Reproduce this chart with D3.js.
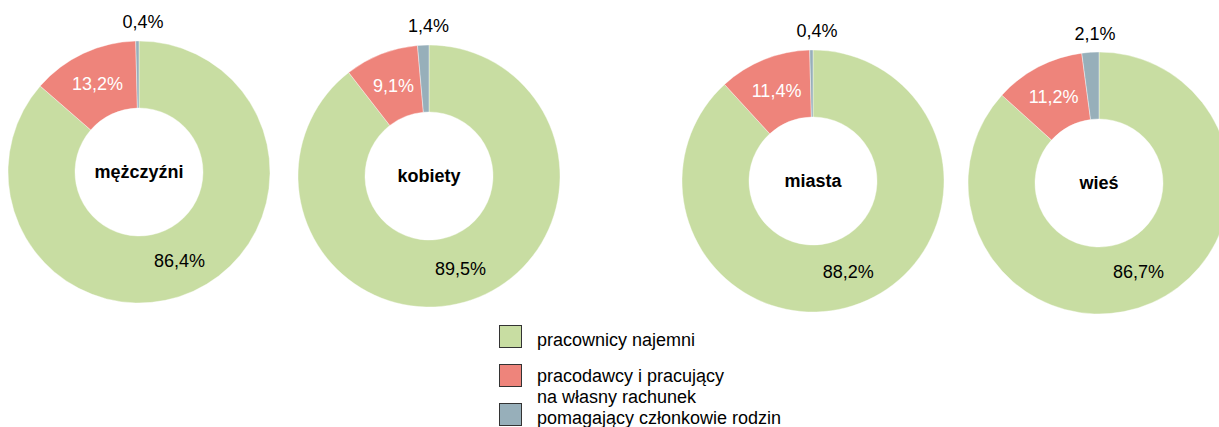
<!DOCTYPE html>
<html>
<head>
<meta charset="utf-8">
<script src="https://cdn.jsdelivr.net/npm/d3@7"></script>
<style>
  body { margin: 0; background: #fff; }
  svg { display: block; font-family: "Liberation Sans", Arial, sans-serif; }
</style>
</head>
<body>
<div id="chart"></div>
<script>
// Data
const groups = ["mężczyźni", "kobiety", "miasta", "wieś"];
const categories = ["pracownicy najemni", "pracodawcy i pracujący na własny rachunek", "pomagający członkowie rodzin"];
const legendLines = [["pracownicy najemni"], ["pracodawcy i pracujący", "na własny rachunek"], ["pomagający członkowie rodzin"]];
const employees = [86.4, 89.5, 88.2, 86.7];
const employers = [13.2, 9.1, 11.4, 11.2];
const helpers = [0.4, 1.4, 0.4, 2.1];

const colors = ["#c8dda2", "#ee847b", "#97afba"];

// Layout
const width = 1219, height = 427;
const centers = [[139, 172], [429, 176], [813, 181], [1099, 183]];
const outerR = 131, innerR = 64;

const svg = d3.select("#chart")
    .append("svg")
    .attr("width", width)
    .attr("height", height);

const pie = d3.pie().sort(null).value(d => d);
const arc = d3.arc().innerRadius(innerR).outerRadius(outerR);
const midArc = d3.arc().innerRadius((innerR + outerR) / 2).outerRadius((innerR + outerR) / 2);
const outArc = d3.arc().innerRadius(150).outerRadius(150);

const fmt = v => v.toFixed(1).replace(".", ",") + "%";

groups.forEach((name, i) => {
    const values = [employees[i], employers[i], helpers[i]];
    const arcs = pie(values);

    const g = svg.append("g")
        .attr("transform", `translate(${centers[i][0]}, ${centers[i][1]})`);

    g.selectAll("path")
        .data(arcs)
        .enter()
        .append("path")
        .attr("d", arc)
        .attr("fill", (d, j) => colors[j])
        .attr("stroke", "#fff")
        .attr("stroke-width", 0.4);

    // Slice labels: first two inside the ring, the small one above it
    g.selectAll(".lbl")
        .data(arcs)
        .enter()
        .append("text")
        .attr("class", "lbl")
        .attr("transform", (d, j) => {
            const [x, y] = j < 2 ? midArc.centroid(d) : outArc.centroid(d);
            return `translate(${j < 2 ? x : x + 6}, ${y})`;
        })
        .attr("text-anchor", "middle")
        .attr("dy", "0.35em")
        .style("font-size", "18px")
        .style("fill", (d, j) => j === 1 ? "#fff" : "#000")
        .text(d => fmt(d.data));

    // Center title
    g.append("text")
        .attr("text-anchor", "middle")
        .attr("dy", "0.35em")
        .style("font-size", "18px")
        .style("font-weight", "bold")
        .text(name);
});

// Legend
const legendY = d3.scalePoint().domain(categories).range([325, 403]);
const legend = svg.append("g").attr("class", "legend");

categories.forEach((c, i) => {
    const y = legendY(c);
    const lines = legendLines[i];
    legend.append("rect")
        .attr("x", 499.5)
        .attr("y", y + 0.5)
        .attr("width", 22)
        .attr("height", 22)
        .attr("fill", colors[i])
        .attr("stroke", "#333")
        .attr("stroke-width", 1);

    legend.append("text")
        .attr("x", 537)
        .attr("y", y + 21 - 3 * (lines.length - 1))
        .style("font-size", "18px")
        .style("fill", "#000")
        .selectAll("tspan")
        .data(lines)
        .enter()
        .append("tspan")
        .attr("x", 537)
        .attr("dy", (d, k) => k === 0 ? 0 : 21)
        .text(d => d);
});
</script>
</body>
</html>
